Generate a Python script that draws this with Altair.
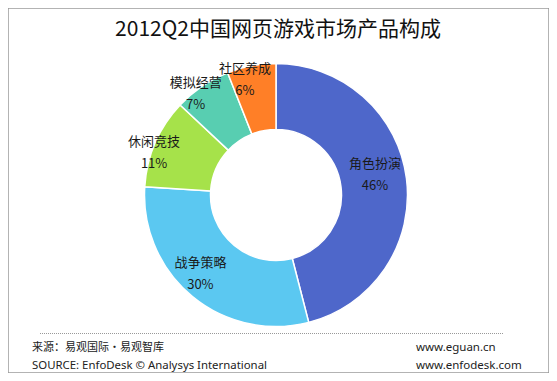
import altair as alt
import pandas as pd

categories = ["角色扮演", "战争策略", "休闲竞技", "模拟经营", "社区养成"]
shares = [46, 30, 11, 7, 6]
colors = ["#4E67CA", "#5BC8F1", "#A6E24A", "#58CEB1", "#FF7F27"]

title_text = "2012Q2中国网页游戏市场产品构成"
footer_left = ["来源：易观国际·易观智库", "SOURCE: EnfoDesk © Analysys International"]
footer_right = ["www.eguan.cn", "www.enfodesk.com"]

df = pd.DataFrame({
    "category": categories,
    "share": shares,
    "order": list(range(len(categories))),
})
df["label"] = [f"{c}\n{s}%" for c, s in zip(categories, shares)]

CX, CY = 268, 187
CJK = "Noto Sans CJK SC"

base = alt.Chart(df)

arcs = base.mark_arc(innerRadius=65.5, outerRadius=131.5, stroke="white", strokeWidth=1.5).encode(
    theta=alt.Theta("share:Q", stack=True),
    order=alt.Order("order:Q"),
    color=alt.Color("category:N", scale=alt.Scale(domain=categories, range=colors), legend=None),
    x=alt.value(CX),
    y=alt.value(CY),
)

# label placement: slice midpoint, nudged the way the hand-placed labels sit
labels = base.transform_window(
    cum="sum(share)", sort=[alt.SortField("order", order="ascending")]
).transform_calculate(
    mid="datum.cum - datum.share / 2 + (datum.order == 1 ? 1.2 : -1.2)",
    lr="datum.share >= 40 ? 101 : datum.share >= 25 ? 109 : datum.share >= 7 ? 129 : 119",
).mark_text(
    font=CJK, fontSize=13, lineBreak="\n", lineHeight=22, color="#1a1a1a",
    align="center", baseline="middle", dy=-11,
).encode(
    theta=alt.Theta("mid:Q", stack=None),
    radius=alt.Radius("lr:Q", scale=None),
    text="label:N",
    x=alt.value(CX),
    y=alt.value(CY),
)

title = alt.Chart(pd.DataFrame({"t": [title_text]})).mark_text(
    font=CJK, fontSize=21, color="#111111", align="center", baseline="middle"
).encode(text="t:N", x=alt.value(270), y=alt.value(22))

fl = pd.DataFrame({"t": footer_left})
fr = pd.DataFrame({"t": footer_right})

footer_l1 = alt.Chart(fl.iloc[[0]]).mark_text(
    font=CJK, fontSize=11, color="#222222", align="left", baseline="middle"
).encode(text="t:N", x=alt.value(24), y=alt.value(340))
footer_l2 = alt.Chart(fl.iloc[[1]]).mark_text(
    font="Noto Sans", fontSize=11.4, color="#222222", align="left", baseline="middle"
).encode(text="t:N", x=alt.value(24), y=alt.value(358))
footer_r1 = alt.Chart(fr.iloc[[0]]).mark_text(
    font="Noto Sans", fontSize=11.5, color="#222222", align="left", baseline="middle"
).encode(text="t:N", x=alt.value(408), y=alt.value(340))
footer_r2 = alt.Chart(fr.iloc[[1]]).mark_text(
    font="Noto Sans", fontSize=11.5, color="#222222", align="left", baseline="middle"
).encode(text="t:N", x=alt.value(408), y=alt.value(358))

dotted = alt.Chart(pd.DataFrame({"a": [0]})).mark_rule(
    color="#999999", strokeDash=[1, 1], strokeWidth=1
).encode(x=alt.value(32), x2=alt.value(496), y=alt.value(325.5))

chart = alt.layer(
    arcs, labels, title, dotted, footer_l1, footer_l2, footer_r1, footer_r2
).properties(
    width=541, height=365, padding=0,
    autosize=alt.AutoSizeParams(type="none"),
    background="white",
).configure_view(stroke="#9A9A9A", strokeWidth=1.5)

chart.save("out.html", embed_options={"renderer": "svg", "actions": False})
